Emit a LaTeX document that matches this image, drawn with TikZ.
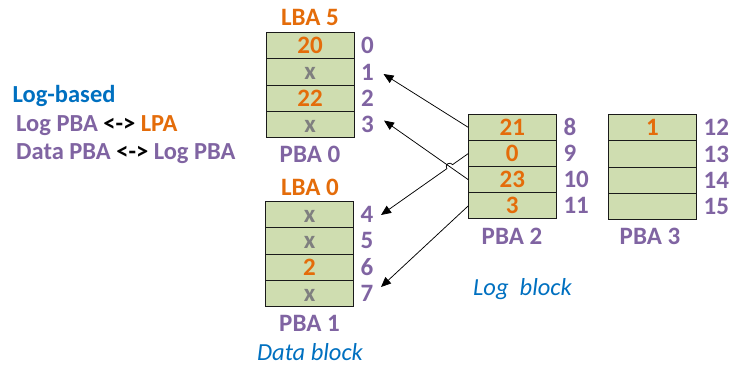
\documentclass[tikz,border=0pt]{standalone}
\usepackage{fontspec}
\setmainfont{Carlito}
\usetikzlibrary{arrows.meta,calc}

\definecolor{lpaorange}{HTML}{E46C0A}
\definecolor{pbapurple}{HTML}{8064A2}
\definecolor{noteblue}{HTML}{0070C0}
\definecolor{cellgreen}{HTML}{CFDDB0}
\definecolor{deadgrey}{HTML}{7F7F7F}
\definecolor{edge}{HTML}{1A1A1A}

\tikzset{
  big/.style={font=\fontsize{25}{28}\selectfont\bfseries},
  cell/.style={draw=edge, line width=0.9pt, fill=cellgreen,
    minimum width=88pt, minimum height=26.15pt, inner sep=0pt, outer sep=0pt,
    text height=16pt, text depth=0pt, big},
  live/.style={cell, text=lpaorange},
  dead/.style={cell, text=deadgrey},
  idx/.style={anchor=west, inner sep=0pt, text=pbapurple, big},
  lba/.style={inner sep=0pt, text=lpaorange, big},
  pba/.style={inner sep=0pt, text=pbapurple, big},
  caption/.style={inner sep=0pt, anchor=base, text=noteblue,
    font=\fontsize{24.5}{28}\selectfont\itshape},
  legend/.style={inner sep=0pt, anchor=base west,
    font=\fontsize{24.5}{28}\selectfont\bfseries},
  map/.style={draw=black, line width=0.75pt,
    -{Triangle[length=10pt,width=8.5pt]}},
}

\begin{document}
\begin{tikzpicture}[x=1pt,y=-1pt]
\useasboundingbox (0,0) rectangle (731,368);

% legend
\node[legend, text=noteblue] (lg1) at (12.5,102) {Log-based};
\node[legend] (lg2) at (16,131) {\textcolor{pbapurple}{Log PBA} <-> \textcolor{lpaorange}{LPA}};
\node[legend] (lg3) at (16,159) {\textcolor{pbapurple}{Data PBA} <-> \textcolor{pbapurple}{Log PBA}};

% PBA 0 (data block of LBA 5)
\node[live, anchor=north west] (c0) at (266,32.7) {20};
\node[dead, anchor=north] (c1) at (c0.south) {x};
\node[live, anchor=north] (c2) at (c1.south) {22};
\node[dead, anchor=north] (c3) at (c2.south) {x};

% PBA 1 (data block of LBA 0)
\node[dead, anchor=north west] (c4) at (265.5,201.7) {x};
\node[dead, anchor=north] (c5) at (c4.south) {x};
\node[live, anchor=north] (c6) at (c5.south) {2};
\node[dead, anchor=north] (c7) at (c6.south) {x};

% PBA 2 (log block)
\node[live, anchor=north west] (c8) at (468.3,114.3) {21};
\node[live, anchor=north] (c9) at (c8.south) {0};
\node[live, anchor=north] (c10) at (c9.south) {23};
\node[live, anchor=north] (c11) at (c10.south) {3};

% PBA 3 (log block)
\node[live, anchor=north west] (c12) at (608.5,114.7) {1};
\node[cell, anchor=north] (c13) at (c12.south) {};
\node[cell, anchor=north] (c14) at (c13.south) {};
\node[cell, anchor=north] (c15) at (c14.south) {};

% page numbers
\foreach \i in {0,...,15} {
  \node[idx] (n\i) at ($(c\i.east)+(7,0)$) {\i};
}

% block titles
\node[lba] (t0) at (310,17) {LBA 5};
\node[pba] (p0) at (310,154.5) {PBA 0};
\node[lba] (t1) at (310,187.5) {LBA 0};
\node[pba] (p1) at (309.5,323) {PBA 1};
\node[pba] (p2) at (512,236) {PBA 2};
\node[pba] (p3) at (650,236) {PBA 3};

\node[caption] (cap1) at (310,360.5) {Data block};
\node[caption] (cap2) at (522.5,295) {Log~~block};

% arrow targets next to the page numbers
\coordinate (a1) at (383.5,74);
\coordinate (a3) at (384,120.5);
\coordinate (a4) at (381,215);
\coordinate (a7) at (381,287);

% mappings from the log pages back to data pages
\draw[map] (c8.west) -- (a1);
\draw[map] (c10.west) -- (a3);
\draw[map] (c11.west) -- (a7);
\coordinate (hop) at (intersection of c9.west--a4 and c10.west--a3);
\draw[map] let \p1=($(c9.west)-(hop)$), \n1={atan2(\y1,\x1)} in
  (c9.west) -- ($(hop)!3.5pt!(c9.west)$)
  arc[start angle=\n1, delta angle=180, radius=3.5pt] -- (a4);
\end{tikzpicture}
\end{document}
